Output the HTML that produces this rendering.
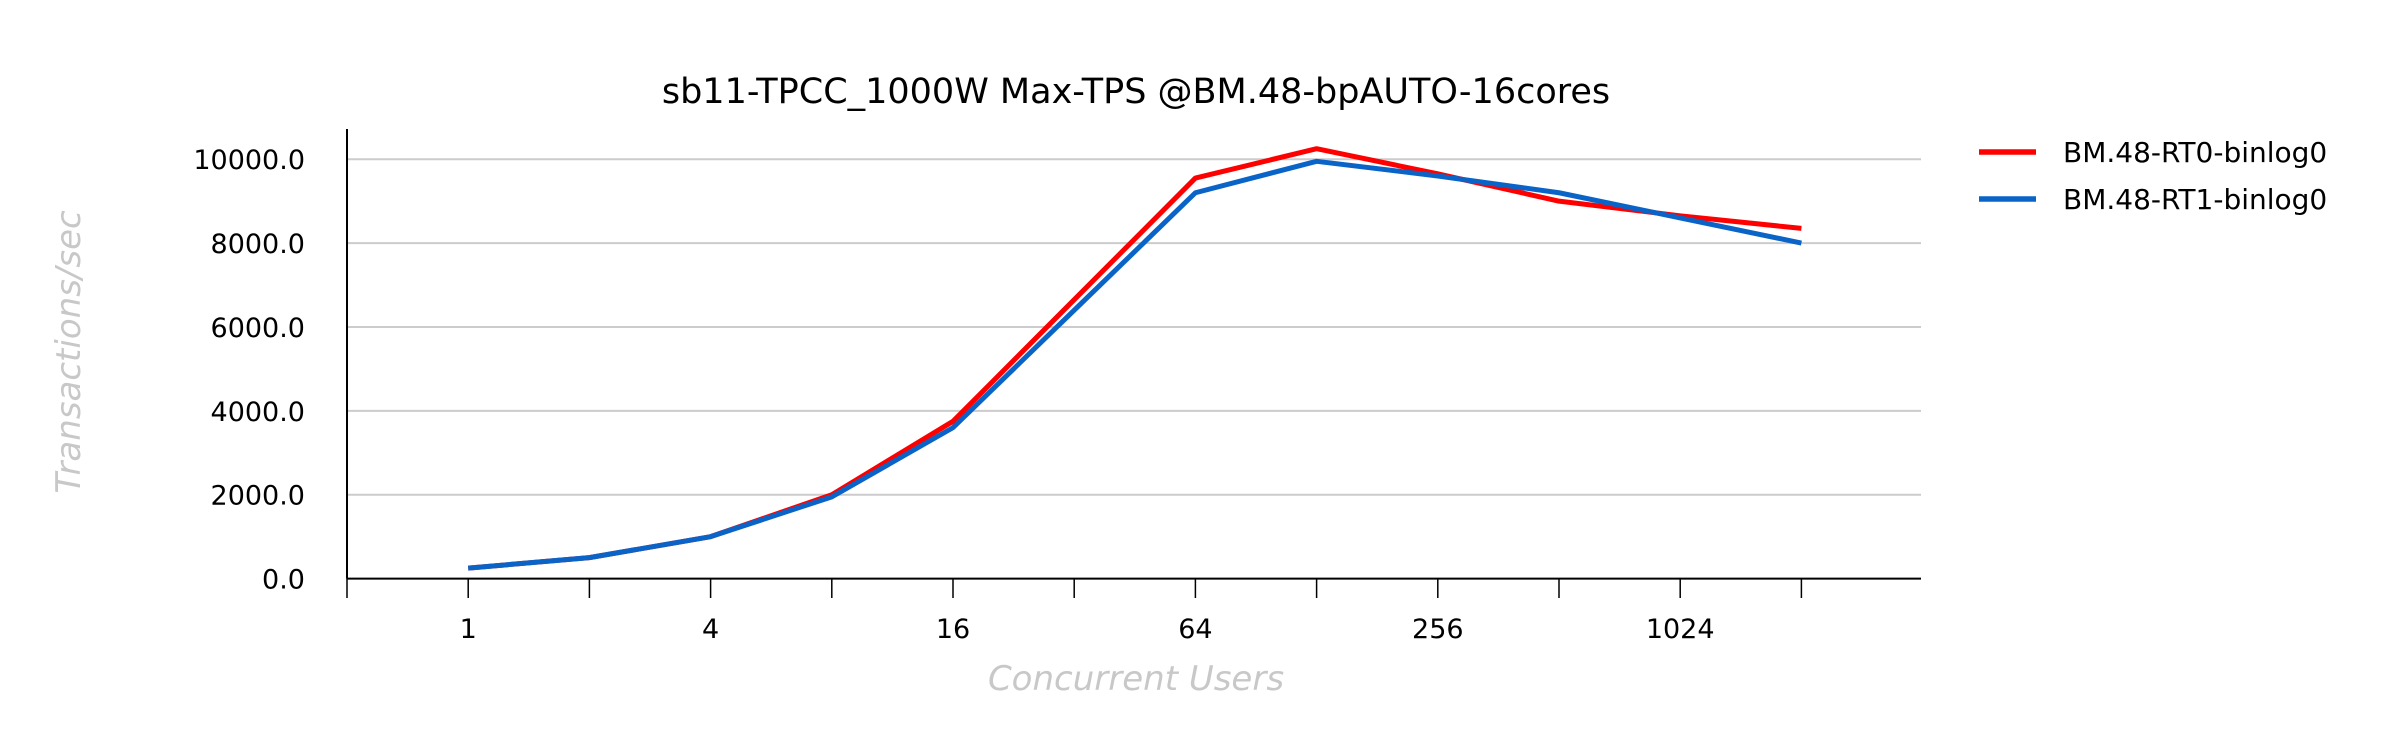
<!DOCTYPE html>
<html><head><meta charset="utf-8"><style>
html,body{margin:0;padding:0;background:#fff;}
svg text{font-family:"DejaVu Sans","Liberation Sans",sans-serif;}
</style></head><body>
<svg id="chart" width="2400" height="748" viewBox="0 0 2400 748" xmlns="http://www.w3.org/2000/svg">
<rect width="2400" height="748" fill="#fff"/>
<text x="1136" y="103" font-size="35" text-anchor="middle" fill="#000">sb11-TPCC_1000W Max-TPS @BM.48-bpAUTO-16cores</text>
<g id="grid"></g>
<g id="axes"></g>
<g id="series"></g>
<text transform="translate(80,352) rotate(-90)" font-size="34" font-style="italic" text-anchor="middle" fill="#c8c8c8">Transactions/sec</text>
<text x="1136" y="690" font-size="34" font-style="italic" text-anchor="middle" fill="#c8c8c8">Concurrent Users</text>
<g>
<line x1="1979" y1="152" x2="2036" y2="152" stroke="#ff0000" stroke-width="5.5"/>
<text x="2063" y="162" font-size="28" fill="#000">BM.48-RT0-binlog0</text>
<line x1="1979" y1="199" x2="2036" y2="199" stroke="#0a64c8" stroke-width="5.5"/>
<text x="2063" y="209" font-size="28" fill="#000">BM.48-RT1-binlog0</text>
</g>
</svg>
<script>
const users = [1,2,4,8,16,32,64,128,256,512,1024,2048];
const rt0 = [250,500,1000,2000,3750,6650,9550,10250,9650,9000,8650,8350];
const rt1 = [250,500,1000,1950,3600,6400,9200,9950,9600,9200,8600,8000];
const yTicks = [0,2000,4000,6000,8000,10000];
const xTickLabels = ["1","4","16","64","256","1024"];
const NS="http://www.w3.org/2000/svg";
const L=347,R=1921,Y0=578.6,Y1=159.2;
function xs(u){return L+121.2*(Math.log2(u)+1);}
function ys(v){return Y0-(v/10000)*(Y0-Y1);}
function mk(tag,attrs,parent){const e=document.createElementNS(NS,tag);for(const k in attrs)e.setAttribute(k,attrs[k]);parent.appendChild(e);return e;}
const grid=document.getElementById('grid'),axes=document.getElementById('axes'),ser=document.getElementById('series');
yTicks.forEach(v=>{
  if(v>0){const g=mk('line',{x1:L,x2:R,y1:ys(v),y2:ys(v),stroke:'#cccccc','stroke-width':2},grid);
  
  }
  const t=mk('text',{x:305,y:ys(v)+10,'font-size':27,'text-anchor':'end',fill:'#000'},axes);
  t.textContent=v.toFixed(1);
  
  
});
const ya=mk('line',{x1:L,x2:L,y1:129,y2:Y0,stroke:'#000','stroke-width':2},axes);


const xa=mk('line',{x1:L,x2:R,y1:Y0,y2:Y0,stroke:'#000','stroke-width':2},axes);


for(let k=0;k<=12;k++){
  const x=L+121.2*k;
  const tk=mk('line',{x1:x,x2:x,y1:Y0,y2:598,stroke:'#000','stroke-width':1.5},axes);
  
  
}
xTickLabels.forEach(s=>{
  const t=mk('text',{x:xs(+s),y:638,'font-size':27,'text-anchor':'middle',fill:'#000'},axes);
  t.textContent=s;
  
  
});
function line(vals,color,name){
  const p=mk('polyline',{points:vals.map((v,i)=>xs(users[i])+','+ys(v)).join(' '),fill:'none',stroke:color,'stroke-width':5,'stroke-linejoin':'round'},ser);
  
  
}
line(rt0,'#ff0000','series-rt0-line');
line(rt1,'#0a64c8','series-rt1-line');
</script>
</body></html>
